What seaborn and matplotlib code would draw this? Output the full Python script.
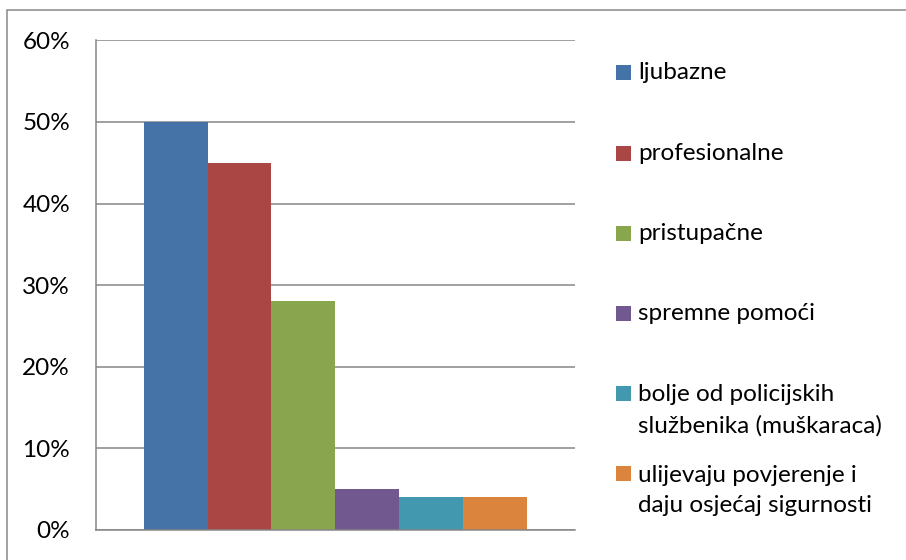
import matplotlib
matplotlib.use("Agg")
import matplotlib.pyplot as plt
from matplotlib.patches import Rectangle
from matplotlib.ticker import PercentFormatter, MultipleLocator
import seaborn as sns
import pandas as pd

# ---- data ----
labels = [
    "ljubazne",
    "profesionalne",
    "pristupačne",
    "spremne pomoći",
    "bolje od policijskih\nslužbenika (muškaraca)",
    "ulijevaju povjerenje i\ndaju osjećaj sigurnosti",
]
values = [0.50, 0.45, 0.28, 0.05, 0.04, 0.04]
colors = ["#4572A7", "#AA4643", "#89A54E", "#71588F", "#4198AF", "#DB843D"]
category = [""] * len(labels)

df = pd.DataFrame({"cat": category, "label": labels, "value": values})

sns.set_theme(style="white")
plt.rcParams["font.family"] = ["Lato", "DejaVu Sans"]

W, H = 906, 560
fig = plt.figure(figsize=(W / 100, H / 100), dpi=100)
fig.patch.set_facecolor("white")

left, right, top, bottom = 95.7, 575.0, 40.3, 530.0
ax = fig.add_axes([left / W, 1 - bottom / H, (right - left) / W, (bottom - top) / H])

sns.barplot(data=df, x="cat", y="value", hue="label", hue_order=labels,
            palette=colors, saturation=1, width=0.8, linewidth=0,
            legend=False, ax=ax)

ax.set_xlim(-0.5, 0.5)
ax.set_ylim(0, 0.6)
ax.yaxis.set_major_locator(MultipleLocator(0.1))
ax.yaxis.set_major_formatter(PercentFormatter(1.0, decimals=0))
ax.set_xticks([])
ax.set_xlabel("")
ax.set_ylabel("")
ax.set_axisbelow(True)
ax.yaxis.grid(True, color="#868686", linewidth=1.1)
for s in ["top", "right"]:
    ax.spines[s].set_visible(False)
for s in ["left", "bottom"]:
    ax.spines[s].set_color("#868686")
    ax.spines[s].set_linewidth(1.1)
ax.tick_params(axis="y", length=0, pad=18.5, labelsize=17.5, labelcolor="black")

# outer chart border (clipped at right and bottom as in reference)
fig.add_artist(Rectangle((7 / W, -0.1), 1.2, (1 - 10 / H) + 0.1,
                         transform=fig.transFigure, fill=False,
                         edgecolor="#898989", linewidth=1.1))

# legend
line_gap = 32.5
base_y = [79, 160, 240, 320, 400, 480]
for lab, col, by in zip(labels, colors, base_y):
    fig.add_artist(Rectangle((616 / W, 1 - (by + 1) / H), 15 / W, 15 / H,
                             transform=fig.transFigure, facecolor=col,
                             edgecolor="none"))
    nl = lab.count("\n")
    fig.text(638 / W, 1 - (by + nl * line_gap) / H, lab, fontsize=17.5,
             color="black", va="baseline", ha="left", linespacing=1.545)

fig.savefig("out.png", dpi=100)
